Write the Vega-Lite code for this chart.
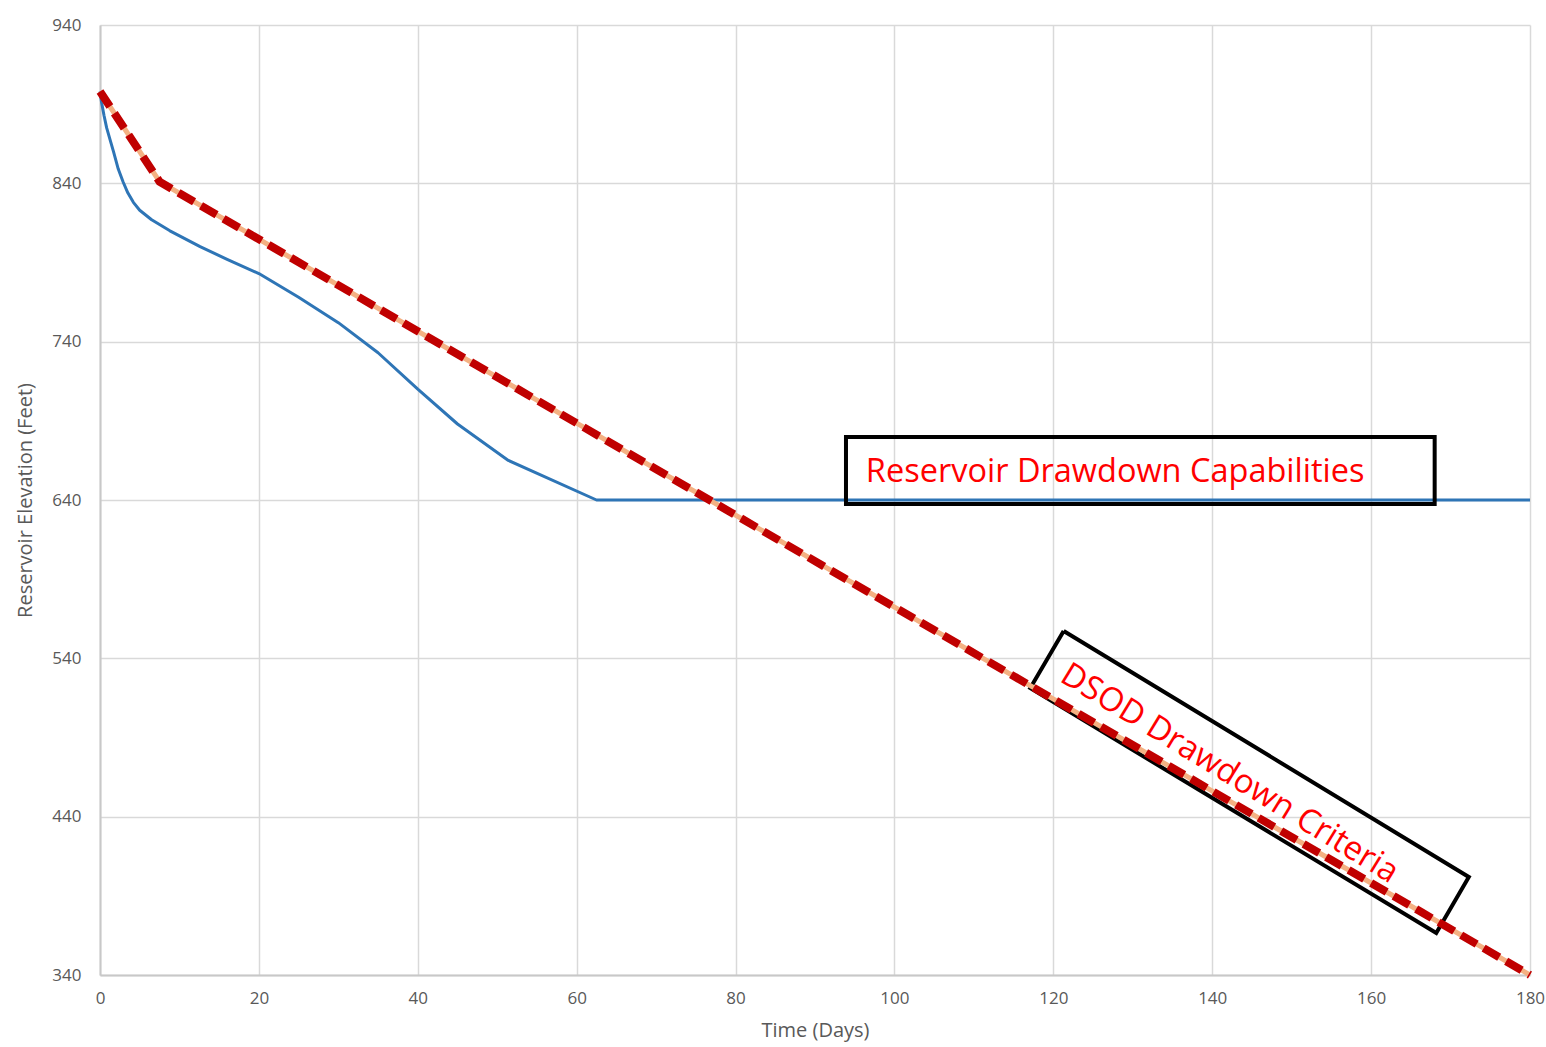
{
  "$schema": "https://vega.github.io/schema/vega-lite/v6.json",
  "width": 1430,
  "height": 950,
  "autosize": {"type": "none"},
  "padding": {"left": 100, "top": 25, "right": 16, "bottom": 72},
  "background": "white",
  "config": {
    "view": {"stroke": null},
    "font": "Open Sans",
    "axis": {
      "gridColor": "#d9d9d9",
      "gridWidth": 1.5,
      "domainColor": "#c8c8c8",
      "domainWidth": 2,
      "ticks": false,
      "labelColor": "#595959",
      "labelFont": "Open Sans",
      "labelFontSize": 17,
      "labelFlush": false,
      "titleColor": "#595959",
      "titleFont": "Open Sans",
      "titleFontSize": 20,
      "titleFontWeight": "normal"
    }
  },
  "datasets": {
    "cap": [
      {"day": 0, "elev": 898},
      {"day": 0.2, "elev": 891},
      {"day": 0.5, "elev": 883},
      {"day": 0.84, "elev": 875},
      {"day": 1.3, "elev": 867},
      {"day": 1.7, "elev": 860},
      {"day": 2.3, "elev": 849},
      {"day": 2.9, "elev": 841},
      {"day": 3.5, "elev": 834},
      {"day": 4.2, "elev": 828},
      {"day": 5, "elev": 823},
      {"day": 6.5, "elev": 817},
      {"day": 8.8, "elev": 810},
      {"day": 12.6, "elev": 800},
      {"day": 16, "elev": 792},
      {"day": 20, "elev": 783},
      {"day": 25, "elev": 768},
      {"day": 30, "elev": 752},
      {"day": 35, "elev": 733},
      {"day": 40, "elev": 710},
      {"day": 45, "elev": 688},
      {"day": 51.4, "elev": 665},
      {"day": 62.5, "elev": 640},
      {"day": 180, "elev": 640}
    ],
    "crit": [
      {"day": 0, "elev": 898},
      {"day": 7.5, "elev": 841},
      {"day": 180, "elev": 340}
    ],
    "box1": [
      {"x1": 93.9, "x2": 168.0, "y1": 679.8, "y2": 637.5}
    ],
    "box2": [
      {"ord": 1, "day": 121.3, "elev": 557.3},
      {"ord": 2, "day": 172.3, "elev": 401.9},
      {"ord": 3, "day": 168.2, "elev": 366.5},
      {"ord": 4, "day": 117.1, "elev": 521.2},
      {"ord": 5, "day": 121.3, "elev": 557.3}
    ],
    "labels": [
      {"day": 96.4, "elev": 658, "text": "Reservoir Drawdown Capabilities", "angle": 0, "size": 32.5},
      {"day": 121.3, "elev": 531.4, "text": "DSOD Drawdown Criteria", "angle": 31.5, "size": 33}
    ]
  },
  "layer": [
    {
      "data": {"name": "cap"},
      "mark": {"type": "line", "color": "#2E75B6", "strokeWidth": 3, "strokeJoin": "round"},
      "encoding": {
        "x": {"field": "day", "type": "quantitative", "scale": {"domain": [0, 180], "nice": false, "zero": false},
              "axis": {"values": [0, 20, 40, 60, 80, 100, 120, 140, 160, 180], "title": "Time (Days)", "labelPadding": 15, "titlePadding": 14}},
        "y": {"field": "elev", "type": "quantitative", "scale": {"domain": [340, 940], "nice": false, "zero": false},
              "axis": {"values": [340, 440, 540, 640, 740, 840, 940], "title": "Reservoir Elevation (Feet)", "labelPadding": 19, "titlePadding": 16}}
      }
    },
    {
      "data": {"name": "box1"},
      "mark": {"type": "rect", "fill": null, "fillOpacity": 0, "stroke": "black", "strokeWidth": 4},
      "encoding": {
        "x": {"field": "x1", "type": "quantitative"},
        "x2": {"field": "x2"},
        "y": {"field": "y1", "type": "quantitative"},
        "y2": {"field": "y2"}
      }
    },
    {
      "data": {"name": "box2"},
      "mark": {"type": "line", "color": "black", "strokeWidth": 4, "strokeJoin": "miter"},
      "encoding": {
        "x": {"field": "day", "type": "quantitative"},
        "y": {"field": "elev", "type": "quantitative"},
        "order": {"field": "ord", "type": "quantitative"}
      }
    },
    {
      "data": {"name": "crit"},
      "mark": {"type": "line", "color": "#F4B183", "strokeWidth": 5},
      "encoding": {
        "x": {"field": "day", "type": "quantitative"},
        "y": {"field": "elev", "type": "quantitative"}
      }
    },
    {
      "data": {"name": "crit"},
      "mark": {"type": "line", "color": "#C00000", "strokeWidth": 8, "strokeDash": [18, 8], "strokeCap": "butt"},
      "encoding": {
        "x": {"field": "day", "type": "quantitative"},
        "y": {"field": "elev", "type": "quantitative"}
      }
    },
    {
      "data": {"name": "labels"},
      "mark": {"type": "text", "color": "#FF0000", "font": "Open Sans", "align": "left", "baseline": "middle"},
      "encoding": {
        "x": {"field": "day", "type": "quantitative"},
        "y": {"field": "elev", "type": "quantitative"},
        "text": {"field": "text"},
        "angle": {"field": "angle", "type": "quantitative", "scale": null},
        "size": {"field": "size", "type": "quantitative", "scale": null}
      }
    }
  ]
}
